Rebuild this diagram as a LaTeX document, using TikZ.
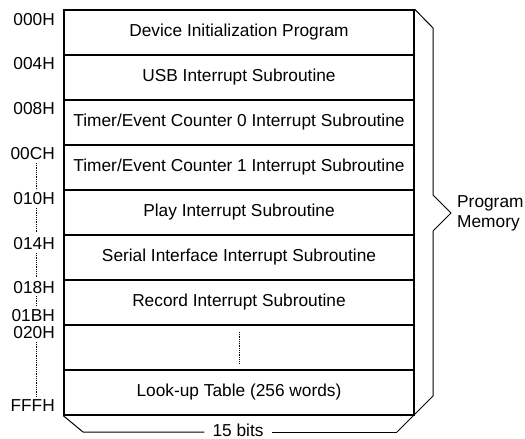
\documentclass[tikz,border=0pt]{standalone}
\usepackage{fontspec}
\setmainfont{Liberation Sans}
\begin{document}
\begin{tikzpicture}[x=1pt,y=-1pt,
  rowbox/.style={draw,line width=1.4pt,minimum width=350pt,minimum height=45pt,inner sep=0pt,anchor=center,font=\fontsize{17.3}{20}\selectfont},
  addr/.style={anchor=east,inner sep=0pt,font=\fontsize{17.3}{20}\selectfont},
  dots/.style={densely dotted,line width=0.8pt},
  brace/.style={line width=1pt,line join=miter}]
\useasboundingbox (0,0) rectangle (525,439);
\node[rowbox] (r1) at (239,32.5) {Device Initialization Program};
\node[rowbox] (r2) at (239,77.5) {USB Interrupt Subroutine};
\node[rowbox] (r3) at (239,122.5) {Timer/Event Counter 0 Interrupt Subroutine};
\node[rowbox] (r4) at (239,167.5) {Timer/Event Counter 1 Interrupt Subroutine};
\node[rowbox] (r5) at (239,212.5) {Play Interrupt Subroutine};
\node[rowbox] (r6) at (239,257.5) {Serial Interface Interrupt Subroutine};
\node[rowbox] (r7) at (239,302.5) {Record Interrupt Subroutine};
\node[rowbox] (r8) at (239,347.5) {};
\node[rowbox] (r9) at (239,392.5) {Look-up Table (256 words)};
% addresses
\node[addr] (a1) at (55,20) {000H};
\node[addr] (a2) at (55,64) {004H};
\node[addr] (a3) at (55,109) {008H};
\node[addr] (a4) at (55,154) {00CH};
\node[addr] (a5) at (55,199) {010H};
\node[addr] (a6) at (55,244) {014H};
\node[addr] (a7) at (55,288) {018H};
\node[addr] (a8) at (55,316) {01BH};
\node[addr] (a9) at (55,333) {020H};
\node[addr] (a10) at (55,406) {FFFH};
\coordinate (d1a) at (36,163); \coordinate (d1b) at (36,190);
\coordinate (d2a) at (36,208); \coordinate (d2b) at (36,233);
\coordinate (d3a) at (36,253); \coordinate (d3b) at (36,278);
\coordinate (d4a) at (36,296); \coordinate (d4b) at (36,306);
\coordinate (d5a) at (36,342); \coordinate (d5b) at (36,397);
\draw[dots] (d1a) -- (d1b);
\draw[dots] (d2a) -- (d2b);
\draw[dots] (d3a) -- (d3b);
\draw[dots] (d4a) -- (d4b);
\draw[dots] (d5a) -- (d5b);
\coordinate (m1) at (239,332); \coordinate (m2) at (239,363);
\draw[dots] (m1) -- (m2);
% right brace
\coordinate (rb1) at (433,28);
\coordinate (rb2) at (433,195);
\coordinate (rb3) at (451,213);
\coordinate (rb4) at (433,231);
\coordinate (rb5) at (433,396);
\coordinate (rb6) at (397,432);
\draw[brace] (r1.north east) -- (rb1) -- (rb2) -- (rb3) -- (rb4) -- (rb5) -- (rb6);
\node[anchor=west,align=left,inner sep=0pt,font=\fontsize{17.3}{20}\selectfont] (pm) at (457,213) {Program\\Memory};
% bottom brace
\node[inner sep=0pt,font=\fontsize{17.3}{20}\selectfont] (bits) at (238,430) {15 bits};
\coordinate (lb1) at (83,432);
\draw[brace] (r9.south west) -- (lb1) -- ([xshift=-8pt]bits.west |- lb1);
\draw[brace] ([xshift=8pt]bits.east |- lb1) -- (rb6);
\end{tikzpicture}
\end{document}
